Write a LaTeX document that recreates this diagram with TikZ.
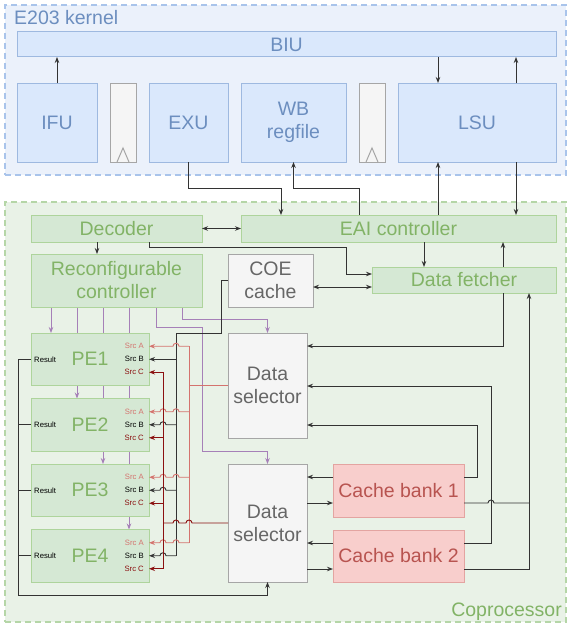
\documentclass[tikz,border=0pt]{standalone}
\usepackage{fontspec}
\setmainfont{Liberation Sans}
\usetikzlibrary{positioning, arrows.meta}

\definecolor{kernelfill}{HTML}{EBF1FB}
\definecolor{kernelline}{HTML}{A9C4EB}
\definecolor{coprofill}{HTML}{E9F2E7}
\definecolor{coproline}{HTML}{B5D6A7}
\definecolor{bluefill}{HTML}{DAE8FC}
\definecolor{blueline}{HTML}{9EB9E0}
\definecolor{bluetext}{HTML}{6C8EBF}
\definecolor{greenfill}{HTML}{D5E8D4}
\definecolor{greenline}{HTML}{AED49C}
\definecolor{greentext}{HTML}{82B366}
\definecolor{greyfill}{HTML}{F5F5F5}
\definecolor{greyline}{HTML}{A6A6A6}
\definecolor{greytext}{HTML}{666666}
\definecolor{redfill}{HTML}{F8CECC}
\definecolor{redline}{HTML}{E3A4A1}
\definecolor{redtext}{HTML}{B85450}
\definecolor{wire}{HTML}{333333}
\definecolor{ctrlwire}{HTML}{A680B8}
\definecolor{srcawire}{HTML}{D4736E}
\definecolor{srccwire}{HTML}{8B1010}

\pgfdeclarelayer{back}
\pgfdeclarelayer{wires}
\pgfsetlayers{back,wires,main}

\tikzset{
    big_font/.style={font=\fontsize{19.5}{23}\selectfont},
    small_font/.style={font=\fontsize{7.7}{9}\selectfont},
    unit/.style={rectangle, line width=1pt, inner sep=0pt, outer sep=0pt, align=center, big_font},
    blue_unit/.style={unit, draw=blueline, fill=bluefill, text=bluetext},
    green_unit/.style={unit, draw=greenline, fill=greenfill, text=greentext},
    grey_unit/.style={unit, draw=greyline, fill=greyfill, text=greytext},
    red_unit/.style={unit, draw=redline, fill=redfill, text=redtext},
    box_size/.style 2 args={minimum width=#1pt, minimum height=#2pt},
    group_box/.style={rectangle, line width=1.5pt, dash pattern=on 6pt off 4pt, inner sep=0pt, outer sep=0pt, anchor=north west},
    group_label/.style={big_font, inner sep=0pt},
    pin_label/.style={small_font, inner sep=0pt},
    wire_line/.style={line width=0.9pt, draw=wire},
    arrow/.style={wire_line, -{Stealth[length=6pt,width=4.5pt]}},
    back_arrow/.style={wire_line, {Stealth[length=6pt,width=4.5pt]}-},
    double_arrow/.style={wire_line, {Stealth[length=6pt,width=4.5pt]}-{Stealth[length=6pt,width=4.5pt]}},
    ctrl_arrow/.style={arrow, draw=ctrlwire},
    src_a_line/.style={wire_line, draw=srcawire},
    src_a_arrow/.style={back_arrow, draw=srcawire},
    src_c_line/.style={wire_line, draw=srccwire},
    src_c_arrow/.style={back_arrow, draw=srccwire},
}

\begin{document}
\begin{tikzpicture}[x=1pt, y=-1pt, node distance=13pt]
    \useasboundingbox (0,0) rectangle (568,626);

    %%%%%%%%%%
    % GROUPS %
    %%%%%%%%%%
    \begin{pgfonlayer}{back}
        \node (kernel) [group_box, draw=kernelline, fill=kernelfill, box_size={561}{170}] at (5,5) {};
        \node (copro) [group_box, draw=coproline, fill=coprofill, box_size={561}{420}] at (5,202) {};
    \end{pgfonlayer}
    \node (kernel_label) [group_label, text=bluetext, anchor=base west] at (14,25)
        {E203 kernel};
    \node (copro_label) [group_label, text=greentext, anchor=base east] at (562,616)
        {Coprocessor};

    %%%%%%%%%%%%%%%
    % E203 KERNEL %
    %%%%%%%%%%%%%%%
    \node (biu) [blue_unit, box_size={539}{25}, anchor=north west] at (17,32)
        {BIU};
    \node (ifu) [blue_unit, box_size={80}{79}, anchor=north west] at (17,83)
        {IFU};
    \node (reg_a) [grey_unit, box_size={26}{79}, right = of ifu]
        {};
    \node (exu) [blue_unit, box_size={79}{79}, right = of reg_a]
        {EXU};
    \node (wb) [blue_unit, box_size={105}{79}, right = of exu]
        {WB\\regfile};
    \node (reg_b) [grey_unit, box_size={26}{79}, right = of wb]
        {};
    \node (lsu) [blue_unit, box_size={158}{79}, right = of reg_b]
        {LSU};
    \foreach \r in {reg_a, reg_b}
        \draw[draw=greyline, line width=1pt] ([xshift=-6pt]\r.south) -- ([yshift=14pt]\r.south) -- ([xshift=6pt]\r.south);

    \draw[arrow] (ifu.north) -- (ifu.north |- biu.south);
    \draw[arrow] (biu.south -| 438,0) -- (lsu.north -| 438,0);
    \draw[arrow] (lsu.north -| 516,0) -- (biu.south -| 516,0);

    %%%%%%%%%%%%%%%
    % COPROCESSOR %
    %%%%%%%%%%%%%%%
    \node (decoder) [green_unit, box_size={171}{27}, anchor=north west] at (31,215)
        {Decoder};
    \node (eai) [green_unit, box_size={315}{27}, anchor=north west] at (241,215)
        {EAI controller};
    \node (reconf) [green_unit, box_size={171}{53}, below = 12pt of decoder]
        {Reconfigurable\\controller};
    \node (coe) [grey_unit, box_size={85}{53}, anchor=north west] at (228,254)
        {COE\\cache};
    \node (fetcher) [green_unit, box_size={184}{26}, anchor=north west] at (372,267)
        {Data fetcher};
    \node (pe1) [green_unit, box_size={118}{52.5}, anchor=north west] at (31,333)
        {PE1};
    \node (pe2) [green_unit, box_size={118}{52.5}, below = of pe1]
        {PE2};
    \node (pe3) [green_unit, box_size={118}{52.5}, below = of pe2]
        {PE3};
    \node (pe4) [green_unit, box_size={118}{52.5}, below = of pe3]
        {PE4};
    \node (sel_a) [grey_unit, box_size={79}{105}, anchor=north west] at (228,333)
        {Data\\selector};
    \node (sel_b) [grey_unit, box_size={79}{118}, anchor=north west] at (228,464)
        {Data\\selector};
    \node (bank_a) [red_unit, box_size={131}{53}, anchor=north west] at (333,464)
        {Cache bank 1};
    \node (bank_b) [red_unit, box_size={131}{52}, below = of bank_a]
        {Cache bank 2};

    \foreach \p in {1,...,4} {
        \node (result\p) [pin_label, anchor=west] at ([xshift=3pt]pe\p.west) {Result};
        \node (src_a\p) [pin_label, text=srcawire, anchor=east] at ([xshift=-5pt,yshift=13pt]pe\p.east) {Src A};
        \node (src_b\p) [pin_label, anchor=east] at ([xshift=-5pt]pe\p.east) {Src B};
        \node (src_c\p) [pin_label, text=srccwire, anchor=east] at ([xshift=-5pt,yshift=-13pt]pe\p.east) {Src C};
    }

    % kernel <-> coprocessor
    \draw[arrow] (exu.south) |- (281,188) -- (eai.north -| 281,0);
    \draw[arrow] (eai.north -| 359,0) |- (wb.south |- 0,188) -- (wb.south);
    \draw[arrow] (eai.north -| 438,0) -- (lsu.south -| 438,0);
    \draw[arrow] (lsu.south -| 516,0) -- (eai.north -| 516,0);

    % control path
    \draw[double_arrow] (decoder) -- (eai);
    \draw[arrow] (decoder.south -| 97,0) -- (reconf.north -| 97,0);
    \draw[arrow] (decoder.south -| 149,0) |- (346,247) |- (fetcher.west |- 0,274);
    \draw[double_arrow] (coe.east |- 0,287) -- (fetcher.west |- 0,287);
    \draw[arrow] (eai.south -| 424,0) -- (fetcher.north -| 424,0);
    \draw[arrow] (fetcher.north -| 503,0) -- (eai.south -| 503,0);
    \begin{pgfonlayer}{wires}
        \foreach \p/\x in {1/51, 2/77, 3/103, 4/129}
            \draw[ctrl_arrow] (reconf.south -| \x,0) -- (pe\p.north -| \x,0);
        \draw[ctrl_arrow] (reconf.south -| 156,0) |- (202,327) |- (sel_b.north |- 0,451) -- (sel_b.north);
        \draw[ctrl_arrow] (reconf.south -| 182,0) |- (sel_a.north |- 0,319) -- (sel_a.north);
    \end{pgfonlayer}

    % data path
    \draw[arrow] (fetcher.south -| 503,0) |- (sel_a.east |- 0,346);
    \draw[arrow] (bank_b.east |- 0,569) -| (fetcher.south -| 529,0);
    \draw[wire_line] (bank_a.east |- 0,503) -- (488,503) arc[start angle=180, end angle=360, radius=3] -- (529,503);
    \draw[arrow] (bank_a.east |- 0,477) -| (477,425) -- (sel_a.east |- 0,425);
    \draw[arrow] (bank_b.east |- 0,543) -| (491,386) -- (sel_a.east |- 0,386);
    \draw[arrow] (bank_a.west |- 0,477) -- (sel_b.east |- 0,477);
    \draw[arrow] (sel_b.east |- 0,503) -- (bank_a.west |- 0,503);
    \draw[arrow] (bank_b.west |- 0,543) -- (sel_b.east |- 0,543);
    \draw[arrow] (sel_b.east |- 0,569) -- (bank_b.west |- 0,569);

    % results
    \draw[arrow] (pe1.west) -| (18,595) -| (sel_b.south);
    \foreach \p in {2,3,4}
        \draw[wire_line] (pe\p.west) -- (pe\p.west -| 18,0);

    % Src B from COE cache
    \draw[wire_line] (coe.west) -| ([xshift=72pt]pe1.north east) -| ([xshift=27pt]pe4.east);
    \draw[back_arrow] (pe1.east) -- ++(27,0);
    \foreach \p in {2,3,4}
        \draw[back_arrow] (pe\p.east) -- ++(11,0) arc[start angle=180, end angle=360, radius=3] -- ++(10,0);

    % Src A from upper selector
    \draw[src_a_line] (sel_a.west) -- ++(-39,0);
    \draw[src_a_line] ([xshift=40pt,yshift=13pt]pe1.east) -- ([xshift=40pt,yshift=13pt]pe4.east);
    \draw[src_a_arrow] ([yshift=13pt]pe1.east) -- ++(24,0) arc[start angle=180, end angle=360, radius=3] -- ++(10,0);
    \foreach \p in {2,3,4}
        \draw[src_a_arrow] ([yshift=13pt]pe\p.east) -- ++(11,0) arc[start angle=180, end angle=360, radius=3]
            -- ++(7,0) arc[start angle=180, end angle=360, radius=3] -- ++(10,0);

    % Src C from lower selector
    \draw[src_c_line] (sel_b.west) -- ++(-36,0) arc[start angle=0, end angle=-180, radius=3]
        -- ++(-7,0) arc[start angle=0, end angle=-180, radius=3] -- ++(-10,0);
    \draw[src_c_line] ([xshift=14pt,yshift=-13pt]pe1.east) -- ([xshift=14pt,yshift=-13pt]pe4.east);
    \foreach \p in {1,...,4}
        \draw[src_c_arrow] ([yshift=-13pt]pe\p.east) -- ++(14,0);

\end{tikzpicture}
\end{document}
